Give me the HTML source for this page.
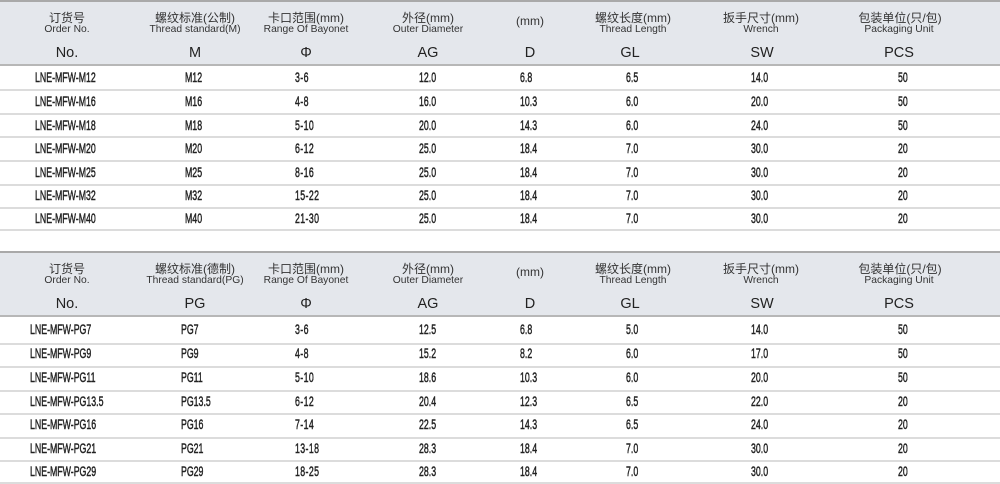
<!DOCTYPE html>
<html><head><meta charset="utf-8">
<style>
*{margin:0;padding:0;box-sizing:border-box}
html,body{width:1000px;height:484px;background:#fff;overflow:hidden}
body{position:relative;font-family:"Liberation Sans","Noto Sans CJK SC",sans-serif;color:#2a2a2a}
.tb{position:absolute;left:0;width:1000px;height:232px}
.hbg{position:absolute;left:0;top:0;width:1000px;height:66px;background:#e4e7ec;border-top:2px solid #a9a9a9;border-bottom:2px solid #b7b7b7}
.ln{position:absolute;left:0;width:1000px;height:2px;background:#dcdcdc}
.hc{position:absolute;width:180px;text-align:center;white-space:nowrap}
.cn{top:9px;height:18px;line-height:18px;font-size:12px;color:#333}
.en{top:23px;height:14px;line-height:14px;font-size:10.3px;color:#333}
.sy{top:44px;height:19px;line-height:19px;font-size:14.5px;color:#222}
.mm{top:12px;height:18px;line-height:18px;font-size:12px;color:#333}
.r{position:absolute;left:0;width:1000px;height:20px;line-height:20px;font-size:13.5px;color:#222}
.r span{position:absolute;top:0;transform:scaleX(.65);transform-origin:0 50%;white-space:nowrap;-webkit-text-stroke:0.45px #222}
.r span:nth-child(1){left:35px}
.r span:nth-child(2){left:185px}
.r span:nth-child(3){left:295px;letter-spacing:.6px}
.r span:nth-child(4){left:419px}
.r span:nth-child(5){left:520px}
.r span:nth-child(6){left:626px}
.r span:nth-child(7){left:751px}
.r span:nth-child(8){left:898px}
.t2 .r span:nth-child(1){left:30px}
.t2 .r span:nth-child(2){left:181px}
</style></head><body>

<div class="tb" style="top:0">
  <div class="hbg"></div>
  <div class="hc cn" style="left:-23px">订货号</div>
  <div class="hc en" style="left:-23px">Order No.</div>
  <div class="hc sy" style="left:-23px">No.</div>
  <div class="hc cn" style="left:105px">螺纹标准(公制)</div>
  <div class="hc en" style="left:105px">Thread standard(M)</div>
  <div class="hc sy" style="left:105px">M</div>
  <div class="hc cn" style="left:216px">卡口范围(mm)</div>
  <div class="hc en" style="left:216px">Range Of Bayonet</div>
  <div class="hc sy" style="left:216px">Φ</div>
  <div class="hc cn" style="left:338px">外径(mm)</div>
  <div class="hc en" style="left:338px">Outer Diameter</div>
  <div class="hc sy" style="left:338px">AG</div>
  <div class="hc mm" style="left:440px">(mm)</div>
  <div class="hc sy" style="left:440px">D</div>
  <div class="hc cn" style="left:543px">螺纹长度(mm)</div>
  <div class="hc en" style="left:543px">Thread Length</div>
  <div class="hc sy" style="left:540px">GL</div>
  <div class="hc cn" style="left:671px">扳手尺寸(mm)</div>
  <div class="hc en" style="left:671px">Wrench</div>
  <div class="hc sy" style="left:672px">SW</div>
  <div class="hc cn" style="left:810px">包装单位(只/包)</div>
  <div class="hc en" style="left:809px">Packaging Unit</div>
  <div class="hc sy" style="left:809px">PCS</div>

  <div class="ln" style="top:89px"></div>
  <div class="ln" style="top:112.7px"></div>
  <div class="ln" style="top:136.3px"></div>
  <div class="ln" style="top:160px"></div>
  <div class="ln" style="top:183.5px"></div>
  <div class="ln" style="top:207px"></div>
  <div class="ln" style="top:228.5px"></div>

  <div class="r" style="top:68px"><span>LNE-MFW-M12</span><span>M12</span><span>3-6</span><span>12.0</span><span>6.8</span><span>6.5</span><span>14.0</span><span>50</span></div>
  <div class="r" style="top:92px"><span>LNE-MFW-M16</span><span>M16</span><span>4-8</span><span>16.0</span><span>10.3</span><span>6.0</span><span>20.0</span><span>50</span></div>
  <div class="r" style="top:116px"><span>LNE-MFW-M18</span><span>M18</span><span>5-10</span><span>20.0</span><span>14.3</span><span>6.0</span><span>24.0</span><span>50</span></div>
  <div class="r" style="top:139px"><span>LNE-MFW-M20</span><span>M20</span><span>6-12</span><span>25.0</span><span>18.4</span><span>7.0</span><span>30.0</span><span>20</span></div>
  <div class="r" style="top:162.5px"><span>LNE-MFW-M25</span><span>M25</span><span>8-16</span><span>25.0</span><span>18.4</span><span>7.0</span><span>30.0</span><span>20</span></div>
  <div class="r" style="top:186px"><span>LNE-MFW-M32</span><span>M32</span><span>15-22</span><span>25.0</span><span>18.4</span><span>7.0</span><span>30.0</span><span>20</span></div>
  <div class="r" style="top:209px"><span>LNE-MFW-M40</span><span>M40</span><span>21-30</span><span>25.0</span><span>18.4</span><span>7.0</span><span>30.0</span><span>20</span></div>
</div>

<div class="tb t2" style="top:251px">
  <div class="hbg"></div>
  <div class="hc cn" style="left:-23px">订货号</div>
  <div class="hc en" style="left:-23px">Order No.</div>
  <div class="hc sy" style="left:-23px">No.</div>
  <div class="hc cn" style="left:105px">螺纹标准(德制)</div>
  <div class="hc en" style="left:105px">Thread standard(PG)</div>
  <div class="hc sy" style="left:105px">PG</div>
  <div class="hc cn" style="left:216px">卡口范围(mm)</div>
  <div class="hc en" style="left:216px">Range Of Bayonet</div>
  <div class="hc sy" style="left:216px">Φ</div>
  <div class="hc cn" style="left:338px">外径(mm)</div>
  <div class="hc en" style="left:338px">Outer Diameter</div>
  <div class="hc sy" style="left:338px">AG</div>
  <div class="hc mm" style="left:440px">(mm)</div>
  <div class="hc sy" style="left:440px">D</div>
  <div class="hc cn" style="left:543px">螺纹长度(mm)</div>
  <div class="hc en" style="left:543px">Thread Length</div>
  <div class="hc sy" style="left:540px">GL</div>
  <div class="hc cn" style="left:671px">扳手尺寸(mm)</div>
  <div class="hc en" style="left:671px">Wrench</div>
  <div class="hc sy" style="left:672px">SW</div>
  <div class="hc cn" style="left:810px">包装单位(只/包)</div>
  <div class="hc en" style="left:809px">Packaging Unit</div>
  <div class="hc sy" style="left:809px">PCS</div>

  <div class="ln" style="top:91.5px"></div>
  <div class="ln" style="top:115px"></div>
  <div class="ln" style="top:138.5px"></div>
  <div class="ln" style="top:162px"></div>
  <div class="ln" style="top:185.5px"></div>
  <div class="ln" style="top:209px"></div>
  <div class="ln" style="top:231px"></div>

  <div class="r" style="top:69px"><span>LNE-MFW-PG7</span><span>PG7</span><span>3-6</span><span>12.5</span><span>6.8</span><span>5.0</span><span>14.0</span><span>50</span></div>
  <div class="r" style="top:93px"><span>LNE-MFW-PG9</span><span>PG9</span><span>4-8</span><span>15.2</span><span>8.2</span><span>6.0</span><span>17.0</span><span>50</span></div>
  <div class="r" style="top:117px"><span>LNE-MFW-PG11</span><span>PG11</span><span>5-10</span><span>18.6</span><span>10.3</span><span>6.0</span><span>20.0</span><span>50</span></div>
  <div class="r" style="top:140.5px"><span>LNE-MFW-PG13.5</span><span>PG13.5</span><span>6-12</span><span>20.4</span><span>12.3</span><span>6.5</span><span>22.0</span><span>20</span></div>
  <div class="r" style="top:164px"><span>LNE-MFW-PG16</span><span>PG16</span><span>7-14</span><span>22.5</span><span>14.3</span><span>6.5</span><span>24.0</span><span>20</span></div>
  <div class="r" style="top:187.5px"><span>LNE-MFW-PG21</span><span>PG21</span><span>13-18</span><span>28.3</span><span>18.4</span><span>7.0</span><span>30.0</span><span>20</span></div>
  <div class="r" style="top:210.5px"><span>LNE-MFW-PG29</span><span>PG29</span><span>18-25</span><span>28.3</span><span>18.4</span><span>7.0</span><span>30.0</span><span>20</span></div>
</div>

</body></html>
